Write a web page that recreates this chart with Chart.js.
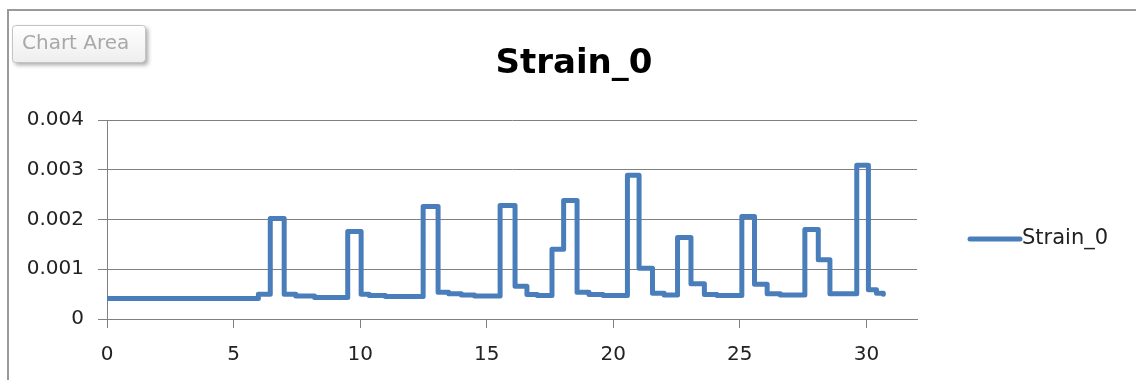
<!DOCTYPE html>
<html>
<head>
<meta charset="utf-8">
<title>Strain_0</title>
<script src="https://cdn.jsdelivr.net/npm/chart.js@4"></script>
<style>
  html, body { margin: 0; padding: 0; background: #fff; }
  #wrap { width: 1136px; height: 380px; }
</style>
</head>
<body>
<div id="wrap"><canvas id="strainChart" width="1136" height="380"></canvas></div>
<script>
// --- data (x where each level starts, level held until next x) ---
const seriesName = "Strain_0";
const xValues = [
  0, 5.98, 6.45, 7.0, 7.46, 8.2,
  9.51, 10.04, 10.36, 11.0,
  12.49, 13.08, 13.5, 14.0, 14.52,
  15.53, 16.12, 16.59, 17.0,
  17.58, 18.04, 18.57, 19.04, 19.6,
  20.56, 21.02, 21.55, 22.01,
  22.54, 23.07, 23.6, 24.1,
  25.08, 25.58, 26.08, 26.6,
  27.57, 28.1, 28.56,
  29.62, 30.08, 30.4, 30.67
];
const strainValues = [
  0.00041, 0.0005, 0.00202, 0.0005, 0.00046, 0.00043,
  0.00176, 0.0005, 0.00047, 0.00045,
  0.00226, 0.00054, 0.00051, 0.00048, 0.00046,
  0.00228, 0.00066, 0.00049, 0.00047,
  0.0014, 0.00238, 0.00054, 0.00049, 0.00047,
  0.00289, 0.00102, 0.00052, 0.00048,
  0.00164, 0.00071, 0.00049, 0.00047,
  0.00206, 0.0007, 0.00051, 0.00048,
  0.0018, 0.00119, 0.00051,
  0.00309, 0.00059, 0.00052, 0.0005
];
const xTicks = [0, 5, 10, 15, 20, 25, 30];
const yTicks = [0, 0.001, 0.002, 0.003, 0.004];

const lineColor = "#4a7ebb";
const gridColor = "#808080";
const fontFamily = "'DejaVu Sans', sans-serif";

// --- extras drawn around the plot: border, "Chart Area" tip, title, legend ---
const decorPlugin = {
  id: "decor",
  beforeDraw(chart) {
    const ctx = chart.ctx;
    ctx.save();
    ctx.fillStyle = "#fff";
    ctx.fillRect(0, 0, chart.width, chart.height);
    ctx.strokeStyle = "#9a9a9a";
    ctx.lineWidth = 2;
    ctx.beginPath();
    ctx.moveTo(8, chart.height);
    ctx.lineTo(8, 10);
    ctx.lineTo(chart.width, 10);
    ctx.stroke();
    ctx.restore();
  },
  afterDraw(chart) {
    const ctx = chart.ctx;
    ctx.save();

    // Chart Area tip
    ctx.save();
    ctx.shadowColor = "rgba(0,0,0,0.35)";
    ctx.shadowOffsetX = 3;
    ctx.shadowOffsetY = 3;
    ctx.shadowBlur = 4;
    const g = ctx.createLinearGradient(0, 25, 0, 62);
    g.addColorStop(0, "#ffffff");
    g.addColorStop(1, "#eeeeee");
    ctx.fillStyle = g;
    ctx.beginPath();
    ctx.roundRect(12, 25, 133, 37, 3);
    ctx.fill();
    ctx.restore();
    ctx.strokeStyle = "#c4c4c4";
    ctx.lineWidth = 1;
    ctx.beginPath();
    ctx.roundRect(12.5, 25.5, 133, 37, 3);
    ctx.stroke();
    ctx.fillStyle = "#a8a8a8";
    ctx.font = "20px " + fontFamily;
    ctx.textAlign = "left";
    ctx.textBaseline = "middle";
    ctx.fillText("Chart Area", 22, 44);

    // title
    ctx.fillStyle = "#000";
    ctx.font = "bold 34px " + fontFamily;
    ctx.textAlign = "center";
    ctx.textBaseline = "alphabetic";
    ctx.fillText(seriesName, 574, 73);

    // legend
    ctx.strokeStyle = lineColor;
    ctx.lineWidth = 5;
    ctx.lineCap = "round";
    ctx.beginPath();
    ctx.moveTo(970, 239);
    ctx.lineTo(1020, 239);
    ctx.stroke();
    ctx.fillStyle = "#222";
    ctx.font = "21px " + fontFamily;
    ctx.textAlign = "left";
    ctx.textBaseline = "middle";
    ctx.fillText(seriesName, 1022, 239);

    ctx.restore();
  }
};

const points = xValues.map((x, i) => ({ x: x, y: strainValues[i] }));

new Chart(document.getElementById("strainChart").getContext("2d"), {
  type: "line",
  data: {
    datasets: [{
      label: seriesName,
      data: points,
      stepped: true,
      borderColor: lineColor,
      borderWidth: 5,
      borderJoinStyle: "round",
      borderCapStyle: "round",
      pointRadius: 0,
      fill: false
    }]
  },
  options: {
    responsive: false,
    animation: false,
    devicePixelRatio: 1,
    layout: { padding: { left: 0, right: 219, top: 120, bottom: 0 } },
    plugins: {
      legend: { display: false },
      title: { display: false },
      tooltip: { enabled: false }
    },
    scales: {
      x: {
        type: "linear",
        min: 0,
        max: 32,
        afterBuildTicks: s => { s.ticks = xTicks.map(v => ({ value: v })); },
        afterFit: s => { s.height = 61; },
        grid: { drawOnChartArea: false, drawTicks: true, tickLength: 9, color: gridColor, lineWidth: 1 },
        border: { display: true, color: gridColor, width: 1 },
        ticks: { color: "#222", font: { family: fontFamily, size: 20 }, padding: 15, maxRotation: 0 }
      },
      y: {
        min: 0,
        max: 0.004,
        afterBuildTicks: s => { s.ticks = yTicks.map(v => ({ value: v })); },
        afterFit: s => { s.width = 107; },
        grid: { drawOnChartArea: true, drawTicks: true, tickLength: 9, color: gridColor, lineWidth: 1 },
        border: { display: true, color: gridColor, width: 1 },
        ticks: {
          color: "#222",
          font: { family: fontFamily, size: 20 },
          padding: 14,
          callback: v => (v === 0 ? "0" : v.toFixed(3))
        }
      }
    }
  },
  plugins: [decorPlugin]
});
</script>
</body>
</html>
